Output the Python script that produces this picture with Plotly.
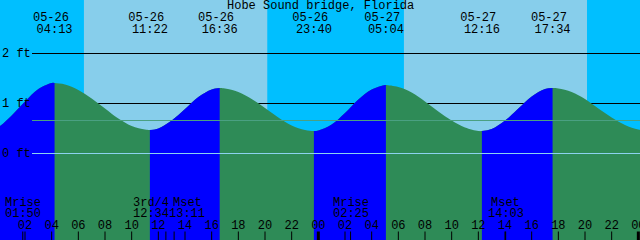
import plotly.graph_objects as go

# ---------------- data ----------------
title = "Hobe Sound bridge, Florida"

# tide extremes, hours since 05-26 00:00
tide_time = [-1.0, 4.217, 11.367, 16.6, 23.667, 29.067, 36.267, 41.567, 48.633]
tide_height = [0.45, 1.41, 0.47, 1.31, 0.45, 1.37, 0.45, 1.31, 0.46]
tide_date = ["05-25", "05-26", "05-26", "05-26", "05-26", "05-27", "05-27", "05-27", "05-28"]
tide_clock = ["23:00", "04:13", "11:22", "16:36", "23:40", "05:04", "12:16", "17:34", "00:38"]

# tide height read at each hour (ft)
hour_time = list(range(0, 50))
hour_height = [0.53, 0.76, 1.04, 1.29, 1.41, 1.38, 1.27, 1.10, 0.90, 0.70,
               0.55, 0.48, 0.50, 0.66, 0.89, 1.13, 1.28, 1.30, 1.23, 1.09,
               0.91, 0.72, 0.56, 0.47, 0.46, 0.58, 0.81, 1.08, 1.28, 1.37,
               1.33, 1.22, 1.04, 0.84, 0.66, 0.52, 0.45, 0.49, 0.66, 0.90,
               1.14, 1.29, 1.30, 1.23, 1.09, 0.90, 0.72, 0.57, 0.48, 0.47]

sunrise = [6.42, 30.42]
sunset = [20.17, 44.15]

moon_time = [1.833, 12.567, 13.183, 26.417, 38.05]
moon_name = ["Mrise", "3rd/4", "Mset", "Mrise", "Mset"]
moon_clock = ["01:50", "12:34", "13:11", "02:25", "14:03"]

hour_ticks = [0, 2, 4, 6, 8, 10, 12, 14, 16, 18, 20, 22, 24,
              26, 28, 30, 32, 34, 36, 38, 40, 42, 44, 46, 48]
hour_labels = ["00", "02", "04", "06", "08", "10", "12", "14", "16", "18", "20", "22", "00",
               "02", "04", "06", "08", "10", "12", "14", "16", "18", "20", "22", "00"]
midnights = [0, 24, 48]

depth_levels = [2, 1, 0]
depth_labels = ["2 ft", "1 ft", "0 ft"]
msl_level = 0.66

# ---------------- style ----------------
NIGHT = "#00BFFF"
DAY = "#87CEEB"
RISE = "#0000FF"
FALL = "#2E8B57"
MSL_COLOR = "rgb(74,160,130)"
DATUM_COLOR = "#8CD2F0"
FONT = dict(family="Liberation Mono, DejaVu Sans Mono, monospace", size=12, color="black")
X_RANGE = [0.125, 48.125]
Y_RANGE = [-1.73, 3.07]
Y_BOTTOM = -3.0
moon_shift = [0, -15, 13, 0, 0]

fig = go.Figure()

# merged curve points
pts = sorted(set(zip(hour_time, hour_height)) | set(zip(tide_time, tide_height)))
all_t = [p[0] for p in pts]
all_h = [p[1] for p in pts]

# whole curve in falling colour
fig.add_trace(go.Scatter(x=[all_t[0], all_t[-1]], y=[Y_BOTTOM, Y_BOTTOM], mode="lines",
                         line=dict(width=0), hoverinfo="skip", showlegend=False))
fig.add_trace(go.Scatter(x=all_t, y=all_h, mode="lines", fill="tonexty", fillcolor=FALL,
                         line=dict(width=0, shape="spline", color=FALL),
                         hoverinfo="skip", showlegend=False))

# rising segments in blue
for i in range(len(tide_time) - 1):
    t0, t1 = tide_time[i], tide_time[i + 1]
    if tide_height[i + 1] <= tide_height[i]:
        continue
    seg = [(t, h) for t, h in pts if t0 <= t <= t1]
    fig.add_trace(go.Scatter(x=[t0, t1], y=[Y_BOTTOM, Y_BOTTOM], mode="lines",
                             line=dict(width=0), hoverinfo="skip", showlegend=False))
    fig.add_trace(go.Scatter(x=[s[0] for s in seg], y=[s[1] for s in seg], mode="lines",
                             fill="tonexty", fillcolor=RISE,
                             line=dict(width=0, shape="spline", color=RISE),
                             hoverinfo="skip", showlegend=False))

# text rows (pixel rows on y2)
lab_t = tide_time[1:]
fig.add_trace(go.Scatter(x=lab_t, y=[18] * len(lab_t), yaxis="y2", mode="text",
                         text=[d + "\u00a0" for d in tide_date[1:]], textposition="middle center",
                         textfont=FONT, cliponaxis=False, hoverinfo="skip", showlegend=False))
fig.add_trace(go.Scatter(x=lab_t, y=[29.5] * len(lab_t), yaxis="y2", mode="text",
                         text=tide_clock[1:], textposition="middle center",
                         textfont=FONT, cliponaxis=False, hoverinfo="skip", showlegend=False))
fig.add_trace(go.Scatter(x=hour_ticks, y=[226] * len(hour_ticks), yaxis="y2", mode="text",
                         text=hour_labels, textposition="middle center",
                         textfont=FONT, cliponaxis=False, hoverinfo="skip", showlegend=False))

shapes = []
for sr, ss in zip(sunrise, sunset):
    shapes.append(dict(type="rect", xref="x", yref="paper", x0=sr, x1=ss, y0=0, y1=1,
                       fillcolor=DAY, line=dict(width=0), layer="below"))
for lv in depth_levels:
    if lv != 0:
        shapes.append(dict(type="line", xref="paper", yref="y", x0=0.05, x1=1, y0=lv, y1=lv,
                           line=dict(color="black", width=1), layer="below"))
shapes.append(dict(type="line", xref="paper", yref="y", x0=0.05, x1=1, y0=msl_level, y1=msl_level,
                   line=dict(color=MSL_COLOR, width=1), layer="above"))
shapes.append(dict(type="line", xref="paper", yref="y", x0=0.05, x1=1, y0=0, y1=0,
                   line=dict(color=DATUM_COLOR, width=1), layer="above"))
for h in hour_ticks:
    shapes.append(dict(type="line", xref="x", yref="y2", x0=h, x1=h, y0=240, y1=231.5,
                       line=dict(color="black", width=3 if h in midnights else 1), layer="above"))
for m in moon_time:
    shapes.append(dict(type="line", xref="x", yref="y2", x0=m, x1=m, y0=240, y1=231.5,
                       line=dict(color="black", width=1), layer="above"))

annotations = [dict(text=title, xref="paper", yref="y2", x=0.5, y=6, showarrow=False,
                    xanchor="center", yanchor="middle", font=FONT)]
for lv, lb in zip(depth_levels, depth_labels):
    annotations.append(dict(text=lb, xref="paper", yref="y", x=1 / 640, y=lv, showarrow=False,
                            xanchor="left", yanchor="middle", font=FONT, borderpad=0))
for m, nm, ck, sh in zip(moon_time, moon_name, moon_clock, moon_shift):
    annotations.append(dict(text=nm, xref="x", yref="y2", x=m, y=202.5, xshift=sh, showarrow=False,
                            xanchor="center", yanchor="middle", font=FONT, borderpad=0))
    annotations.append(dict(text=ck, xref="x", yref="y2", x=m, y=213.5, xshift=sh, showarrow=False,
                            xanchor="center", yanchor="middle", font=FONT, borderpad=0))

fig.update_layout(
    width=640, height=240, margin=dict(l=0, r=0, t=0, b=0),
    paper_bgcolor=NIGHT, plot_bgcolor=NIGHT,
    xaxis=dict(range=X_RANGE, visible=False, fixedrange=True),
    yaxis=dict(range=Y_RANGE, visible=False, fixedrange=True),
    yaxis2=dict(range=[240, 0], overlaying="y", visible=False, fixedrange=True),
    shapes=shapes, annotations=annotations, showlegend=False,
)

fig.write_html("out.html", config={"displayModeBar": False, "staticPlot": True})
